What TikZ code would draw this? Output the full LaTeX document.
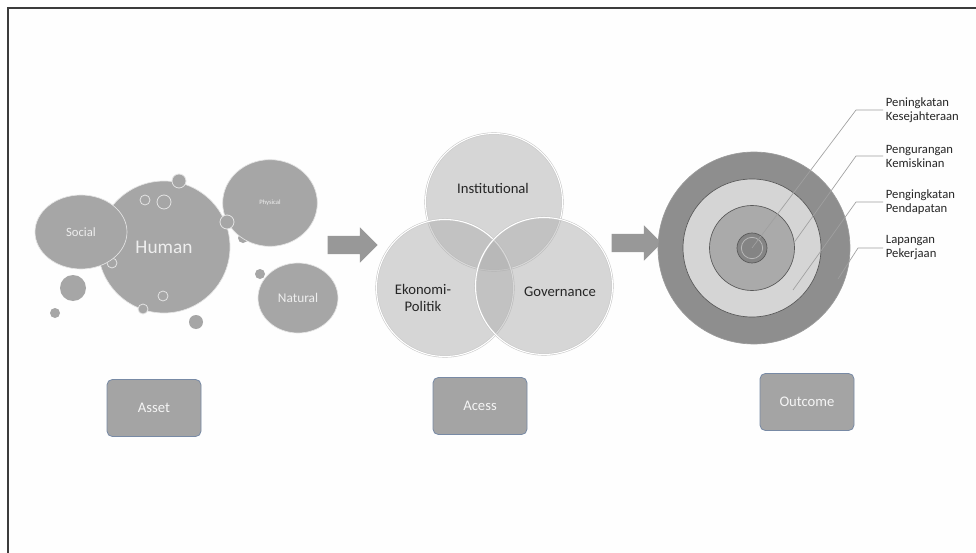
\documentclass[tikz,border=0pt]{standalone}
\usepackage{fontspec}
\setmainfont{Carlito}
\usepackage{tikz}
\usetikzlibrary{shapes.geometric,shapes.arrows,positioning}
\definecolor{bubblegray}{RGB}{166,166,166}
\definecolor{bubbletext}{RGB}{238,238,238}
\definecolor{bubbleedge}{RGB}{228,228,228}
\definecolor{venngray}{RGB}{176,176,176}
\definecolor{venntext}{RGB}{38,38,38}
\definecolor{ringdark}{RGB}{142,142,142}
\definecolor{ringlight}{RGB}{213,213,213}
\definecolor{ringmid}{RGB}{170,170,170}
\definecolor{ringcore}{RGB}{132,132,132}
\definecolor{ringedge}{RGB}{88,88,88}
\definecolor{boxfill}{RGB}{164,164,164}
\definecolor{boxedge}{RGB}{120,138,165}
\definecolor{leadgray}{RGB}{160,160,160}
\definecolor{arrowgray}{RGB}{152,152,152}
\definecolor{framegray}{RGB}{60,60,60}
\tikzset{
  bubble/.style={circle,fill=bubblegray,draw=bubbleedge,line width=0.5pt,text=bubbletext,inner sep=0pt},
  ebubble/.style={ellipse,fill=bubblegray,draw=bubbleedge,line width=0.5pt,text=bubbletext,inner sep=0pt},
  dot/.style={fill=bubblegray},
  dotrim/.style={fill=bubblegray,draw=bubbleedge,line width=0.6pt},
  ringdot/.style={draw=bubbleedge,line width=0.6pt},
  venn/.style={circle,minimum size=102.75pt,fill=venngray,fill opacity=0.5,draw=gray!45,double=white,double distance=0.8pt,inner sep=0pt},
  venntxt/.style={text=venntext,font=\fontsize{11}{13}\selectfont,align=center},
  blockarr/.style={single arrow,fill=arrowgray,minimum height=37.5pt,inner xsep=0pt,inner ysep=6.6pt,single arrow head extend=6.4pt},
  ring/.style={circle,draw=ringedge,line width=0.5pt,inner sep=0pt},
  outlab/.style={anchor=west,align=left,inner sep=2pt,text=black!85,font=\fontsize{9.5}{10.5}\selectfont},
  lead/.style={draw=leadgray,line width=0.5pt},
  stagebox/.style={rectangle,rounded corners=4pt,fill=boxfill,draw=boxedge,line width=0.6pt,minimum width=70.5pt,minimum height=42.75pt,text=white!92!gray,font=\fontsize{11}{13}\selectfont}
}
\begin{document}
\begin{tikzpicture}[x=0.75pt,y=-0.75pt]
  \useasboundingbox (0,0) rectangle (976,553);
  \fill[gray!1] (8,8) rectangle (976,553);
  \draw[framegray,line width=1.5pt] (8,553) -- (8,8) -- (976,8);

  % asset bubbles
  \fill[dot] (243,238) circle (3.75pt);
  \node[bubble,minimum size=99pt,font=\fontsize{14.5}{16}\selectfont] (human) at (164,247) {Human};
  \draw[ringdot] (112,263) circle (3.75pt);
  \node[ebubble,minimum width=69pt,minimum height=55.5pt,font=\fontsize{9.5}{11}\selectfont] (social) at (81,232) {Social};
  \node[ebubble,minimum width=71pt,minimum height=65pt,font=\fontsize{5}{6}\selectfont] (physical) at (270,203) {Physical};
  \node[ebubble,minimum width=60pt,minimum height=52.5pt,font=\fontsize{10}{12}\selectfont] (natural) at (298,298) {Natural};
  \foreach \x/\y/\r in {179/181/5.25,227/222/5.25,143/309/3.75}
    \draw[dotrim] (\x,\y) circle (\r pt);
  \foreach \x/\y/\r in {73/288/9.75,55/313/3.75,196/322/5.25,260/274/3.75}
    \fill[dot] (\x,\y) circle (\r pt);
  \foreach \x/\y/\r in {145/200/3.75,164/202/5.25,163/296/3.75}
    \draw[ringdot] (\x,\y) circle (\r pt);

  \node[blockarr] (arr1) at (348,245) {};

  % access venn
  \node[venn] (inst) at (494,202) {};
  \node[venn] (ekon) at (445,288) {};
  \node[venn] (gov) at (544,286) {};
  \node[venntxt] (tinst) at (493,188) {Institutional};
  \node[venntxt] (tekon) at (423,298) {Ekonomi-\\Politik};
  \node[venntxt] (tgov) at (560,292) {Governance};

  \node[blockarr] (arr2) at (632,243) {};

  % outcome rings
  \node[ring,fill=ringdark,draw=ringedge!60,minimum size=144pt] (c4) at (754,248) {};
  \node[ring,fill=ringlight,minimum size=103.5pt] (c3) at (752,248) {};
  \node[ring,fill=ringmid,minimum size=63.75pt] (c2) at (752,248) {};
  \node[ring,fill=ringcore,minimum size=22.5pt] (c1) at (752,248) {};
  \node[circle,draw=gray!55,line width=0.6pt,minimum size=16pt,inner sep=0pt] (c0) at (752,248) {};

  \node[outlab] (lab1) at (883,110) {Peningkatan\\Kesejahteraan};
  \node[outlab,below=34.5pt of lab1.west,anchor=west] (lab2) {Pengurangan\\Kemiskinan};
  \node[outlab,below=34.5pt of lab2.west,anchor=west] (lab3) {Pengingkatan\\Pendapatan};
  \node[outlab,below=34.5pt of lab3.west,anchor=west] (lab4) {Lapangan\\Pekerjaan};
  \coordinate (e3) at (793,290);
  \coordinate (e4) at (838,279);
  \draw[lead] (lab1.west) -- ++(-27,0) -- (c0.center);
  \draw[lead] (lab2.west) -- ++(-27,0) -- (c2.8);
  \draw[lead] (lab3.west) -- ++(-27,0) -- (e3);
  \draw[lead] (lab4.west) -- ++(-25,0) -- (e4);

  % stage labels
  \node[stagebox] (asset) at (154,408) {Asset};
  \node[stagebox] (acess) at (480,406) {Acess};
  \node[stagebox] (outcome) at (807,402) {Outcome};
\end{tikzpicture}
\end{document}
